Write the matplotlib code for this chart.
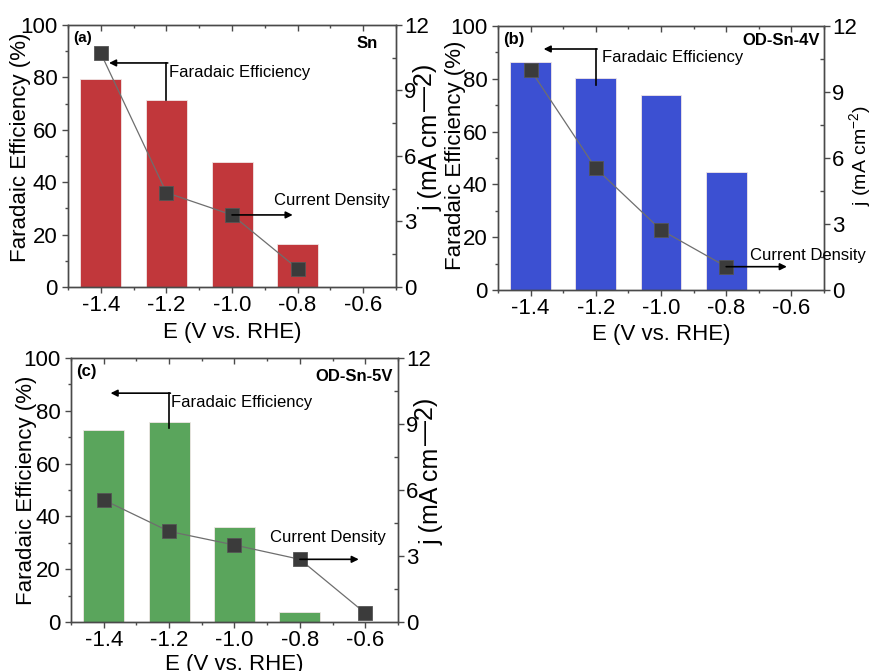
import matplotlib.pyplot as plt
from matplotlib.ticker import MultipleLocator

plt.rcParams['font.family'] = ['Liberation Sans', 'DejaVu Sans']
plt.rcParams['axes.unicode_minus'] = False
plt.rcParams['mathtext.default'] = 'regular'

# potentials (V vs. RHE)
potential = [-1.4, -1.2, -1.0, -0.8, -0.6]

# Faradaic efficiency of formate (%)
fe_sn = [79.3, 71.5, 47.7, 16.5]
fe_4v = [86.5, 80.5, 73.7, 44.6]
fe_5v = [72.8, 75.6, 35.9, 3.9]

# partial current density (mA cm-2)
j_sn = [10.7, 4.32, 3.30, 0.84]
j_4v = [10.0, 5.53, 2.73, 1.06]
j_5v = [5.55, 4.12, 3.50, 2.85, 0.40]

fig = plt.figure(figsize=(8.69, 6.71), dpi=100)
EDGE = '#4a4a4a'


def style_axes(ax, ax2):
    for a in (ax, ax2):
        for s in a.spines.values():
            s.set_color(EDGE)
            s.set_linewidth(1.0)
    ax.set_xlim(-1.5, -0.5)
    ax.set_ylim(0, 100)
    ax2.set_ylim(0, 12)
    ax.set_xticks(potential)
    ax.xaxis.set_minor_locator(MultipleLocator(0.1))
    ax.yaxis.set_major_locator(MultipleLocator(20))
    ax.yaxis.set_minor_locator(MultipleLocator(10))
    ax2.yaxis.set_major_locator(MultipleLocator(3))
    ax2.yaxis.set_minor_locator(MultipleLocator(1.5))
    ax.tick_params(axis='both', which='major', direction='out', length=4,
                   width=1, color=EDGE, labelsize=16, right=False)
    ax.tick_params(axis='both', which='minor', direction='out', length=2.5,
                   width=1, color=EDGE, right=False)
    ax.tick_params(axis='x', which='both', top=True)
    ax.tick_params(axis='x', which='major', pad=2)
    ax2.tick_params(axis='y', which='major', direction='out', length=4,
                    width=1, color=EDGE, labelsize=16, pad=2)
    ax2.tick_params(axis='y', which='minor', direction='in', length=3,
                    width=1, color=EDGE)
    # top ticks point inward
    for t in ax.xaxis.get_major_ticks() + ax.xaxis.get_minor_ticks():
        t.tick2line.set_marker(3)
    ax.set_xticklabels(['%.1f' % v for v in potential])


def draw_panel(rect, fe, cur, color, tag, tag_size, name, name_xy,
               fe_arrow, fe_text, cd_idx, cd_text, cd_end, ylab_xy, xlab_y,
               big_j):
    ax = fig.add_axes(rect)
    ax2 = ax.twinx()
    ax.bar(potential[:len(fe)], fe, width=0.125, color=color,
           edgecolor='#f0e6e6', linewidth=0.6, zorder=2)
    ax2.plot(potential[:len(cur)], cur, color='#6e6e6e', lw=0.9, zorder=2)
    ax2.plot(potential[:len(cur)], cur, 's', ms=10, mfc='#3b3b3b',
             mec='#555555', mew=0.6, zorder=3)
    style_axes(ax, ax2)

    ax.set_xlabel('E (V vs. RHE)', fontsize=16)
    ax.xaxis.set_label_coords(0.5, xlab_y)
    ax.set_ylabel('Faradaic Efficiency (%)', fontsize=16)
    ax.yaxis.set_label_coords(*ylab_xy)

    ax.text(0.015, 0.95, tag, transform=ax.transAxes, fontsize=tag_size,
            fontweight='bold', ha='left', va='center')
    ax.text(name_xy[0], name_xy[1], name, transform=ax.transAxes,
            fontsize=12, fontweight='bold', ha='right', va='center')

    # elbow arrow pointing to the left axis
    x0, y0, y1, x1 = fe_arrow
    ax.plot([x0, x0], [y0, y1], color='black', lw=1.2, zorder=4)
    ax.annotate('', xy=(x1, y1), xytext=(x0 + 0.004, y1),
                arrowprops=dict(arrowstyle='-|>', color='black', lw=1.2,
                                mutation_scale=10, shrinkA=0, shrinkB=0),
                zorder=4)
    ax.text(fe_text[0], fe_text[1], 'Faradaic Efficiency', fontsize=12,
            ha='left', va='center', zorder=5)

    # arrow pointing to the right axis
    xm, ym = potential[cd_idx], cur[cd_idx]
    ax2.annotate('', xy=(cd_end, ym), xytext=(xm, ym),
                 arrowprops=dict(arrowstyle='-|>', color='black', lw=1.2,
                                 mutation_scale=10, shrinkA=0, shrinkB=0),
                 zorder=5)
    ax2.text(cd_text[0], cd_text[1], 'Current Density', fontsize=12,
             ha='left', va='center', zorder=5)

    if big_j:
        t1 = ax2.text(1.104, 0.29, 'j (mA cm', transform=ax2.transAxes,
                      rotation=90, fontsize=18, ha='center', va='bottom')
        ax2.annotate('\u20142)', xy=(0.5, 1.0), xycoords=t1, xytext=(-4, 2),
                     textcoords='offset points', rotation=90, fontsize=18,
                     ha='center', va='bottom')
    else:
        ax2.set_ylabel('j (mA cm$^{-2}$)', fontsize=14)
        ax2.yaxis.set_label_coords(1.07, 0.508)
    return ax, ax2


# (a) Sn
draw_panel([0.0783, 0.5723, 0.3774, 0.3905], fe_sn, j_sn, '#c1373b',
           '(a)', 11, 'Sn', (0.945, 0.93),
           (-1.2, 71.5, 85.5, -1.375), (-1.192, 81.7),
           2, (-0.873, 3.94), -0.815, (-0.113, 0.534), -0.135, True)

# (b) OD-Sn-4V
draw_panel([0.5731, 0.5678, 0.3751, 0.3934], fe_4v, j_4v, '#3c50d2',
           '(b)', 12, 'OD-Sn-4V', (0.988, 0.947),
           (-1.2, 77.7, 91.3, -1.36), (-1.18, 87.9),
           3, (-0.727, 1.55), -0.614, (-0.098, 0.51), -0.13, False)

# (c) OD-Sn-5V
draw_panel([0.0817, 0.0730, 0.3763, 0.3934], fe_5v, j_5v, '#5aa55c',
           '(c)', 12, 'OD-Sn-5V', (0.985, 0.93),
           (-1.2, 73.5, 86.7, -1.379), (-1.195, 83.3),
           3, (-0.89, 3.86), -0.62, (-0.104, 0.5), -0.12, True)

fig.savefig('out.png', dpi=100)
